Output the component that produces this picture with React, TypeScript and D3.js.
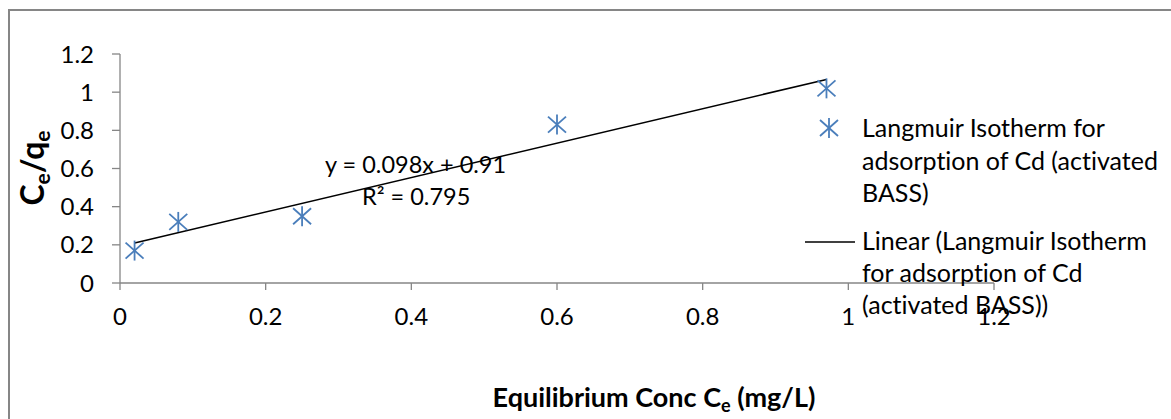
import React from 'react';
import * as d3 from 'd3';

// measured points (Ce, Ce/qe)
const conc = [0.02, 0.08, 0.25, 0.6, 0.97];
const ratio = [0.17, 0.32, 0.35, 0.83, 1.02];
const xTicks = [0, 0.2, 0.4, 0.6, 0.8, 1, 1.2];
const yTicks = [0, 0.2, 0.4, 0.6, 0.8, 1, 1.2];
const seriesName = ['Langmuir Isotherm for', 'adsorption of Cd (activated', 'BASS)'];
const trendName = ['Linear (Langmuir Isotherm', 'for adsorption of Cd', '(activated BASS))'];
const equation = 'y = 0.098x + 0.91';
const rSquared = 'R² = 0.795';

const FONT = 'Lato, "Noto Sans", sans-serif';
const AXIS = '#868686';
const BLUE = '#4A7EBB';

const Star = ({ x, y }: { x: number; y: number }) => (
    <g transform={`translate(${x},${y})`} stroke={BLUE} strokeWidth={1.8}>
        <line x1={-9} y1={-8} x2={9} y2={8} />
        <line x1={-9} y1={8} x2={9} y2={-8} />
        <line x1={0} y1={-10} x2={0} y2={10} />
    </g>
);

const App = () => {
    const x = d3.scaleLinear().domain([0, 1.2]).range([120, 994]);
    const y = d3.scaleLinear().domain([0, 1.2]).range([283, 54]);

    // least squares trendline
    const pts = conc.map((c, i) => [c, ratio[i]] as [number, number]);
    const mx = d3.mean(conc)!;
    const my = d3.mean(ratio)!;
    const slope = d3.sum(pts, p => (p[0] - mx) * (p[1] - my)) / d3.sum(pts, p => (p[0] - mx) ** 2);
    const icpt = my - slope * mx;
    const [x0, x1] = d3.extent(conc) as [number, number];
    const line = d3.line<number>().x(d => x(d)).y(d => y(slope * d + icpt));

    const fmt = (v: number) => String(v);

    return (
        <div style={{ position: 'absolute', left: 0, top: 0 }}>
            <svg width={1171} height={419} fontFamily={FONT} style={{ display: 'block', fontVariantLigatures: 'none' }}>
                <rect x={0} y={0} width={1171} height={419} fill="#fff" />
                <rect x={9} y={10} width={1200} height={450} fill="none" stroke={AXIS} strokeWidth={2} />

                {/* y axis */}
                <line x1={x(0)} x2={x(0)} y1={y(1.2)} y2={y(0)} stroke={AXIS} strokeWidth={1.3} />
                {yTicks.map(t => (
                    <g key={'y' + t}>
                        <line x1={x(0) - 8} x2={x(0)} y1={y(t)} y2={y(t)} stroke={AXIS} strokeWidth={1.3} />
                        <text x={94} y={y(t) + 8.5} textAnchor="end" fontSize={24} fill="#000">{fmt(t)}</text>
                    </g>
                ))}

                {/* x axis */}
                <line x1={x(0)} x2={x(1.2)} y1={y(0)} y2={y(0)} stroke={AXIS} strokeWidth={1.3} />
                {xTicks.map(t => (
                    <g key={'x' + t}>
                        <line x1={x(t)} x2={x(t)} y1={y(0)} y2={y(0) + 7} stroke={AXIS} strokeWidth={1.3} />
                        <text x={x(t)} y={325} textAnchor="middle" fontSize={24} fill="#000">{fmt(t)}</text>
                    </g>
                ))}

                {/* trendline */}
                <path d={line([x0, x1]) || ''} fill="none" stroke="#000" strokeWidth={1.6} />

                {/* points */}
                {pts.map((p, i) => <Star key={i} x={x(p[0])} y={y(p[1])} />)}

                {/* equation */}
                <text x={325} y={173} fontSize={23.5} fill="#000">{equation}</text>
                <text x={362} y={205} fontSize={23.5} fill="#000">{rSquared}</text>

                {/* legend */}
                <Star x={829} y={128} />
                {seriesName.map((s, i) => (
                    <text key={s} x={862} y={137 + i * 32.5} fontSize={25} fill="#000">{s}</text>
                ))}
                <line x1={805} x2={855} y1={242} y2={242} stroke="#000" strokeWidth={1.6} />
                {trendName.map((s, i) => (
                    <text key={s} x={862} y={250 + i * 32} fontSize={25} fill="#000">{s}</text>
                ))}

                {/* axis titles */}
                <text x={654} y={407} textAnchor="middle" fontSize={27} fontWeight="bold" fill="#000">
                    Equilibrium Conc C<tspan fontSize={18} dy={5}>e</tspan><tspan dy={-5}> (mg/L)</tspan>
                </text>
                <text transform="translate(44,168) rotate(-90)" textAnchor="middle" fontSize={32} fontWeight="bold" fill="#000">
                    C<tspan fontSize={21} dy={6}>e</tspan><tspan dy={-6}>/q</tspan><tspan fontSize={21} dy={6}>e</tspan>
                </text>
            </svg>
        </div>
    );
};

export default App;
